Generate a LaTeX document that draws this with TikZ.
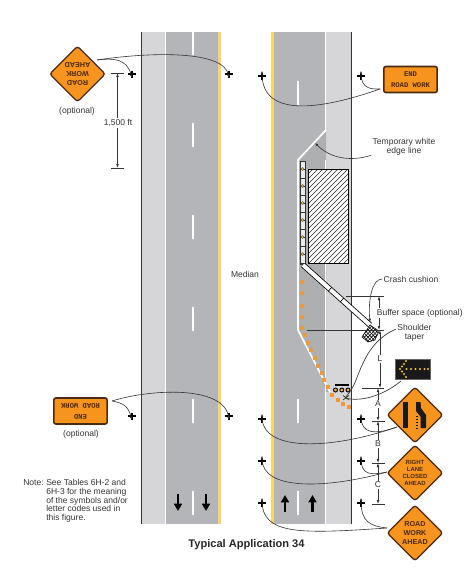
\documentclass[tikz,border=0pt]{standalone}
\usepackage{fontspec}
\setmainfont{Liberation Sans}
\newfontfamily\signfont{Liberation Mono}
\usetikzlibrary{arrows.meta,shapes.geometric}
\definecolor{lanegray}{HTML}{B4B5B8}
\definecolor{closedgray}{HTML}{AEAFB1}
\definecolor{shouldergray}{HTML}{D6D6D9}
\definecolor{edgeyellow}{HTML}{F9D56E}
\definecolor{signorange}{HTML}{F7941E}
\definecolor{signbrown}{HTML}{4A2A12}
\definecolor{inkgray}{HTML}{333333}
\definecolor{dotorange}{HTML}{EE9A3A}
\definecolor{boardyellow}{HTML}{F5C83C}

\begin{document}
\begin{tikzpicture}[
  x=0.75pt, y=-0.75pt,
  font=\fontsize{6.4pt}{6.6pt}\selectfont,
  lbl/.style={text=inkgray, align=center, inner sep=1pt},
  diamondsign/.style={diamond, aspect=1, draw=signbrown, line width=1pt, rounded corners=2pt, fill=signorange, minimum width=42pt, minimum height=42pt, inner sep=0pt, align=center, font=\fontsize{5.4pt}{7pt}\selectfont\bfseries, text=signbrown},
  rectsign/.style={draw=signbrown, line width=1.2pt, rounded corners=1.5pt, fill=signorange, minimum width=40pt, minimum height=19.5pt, inner sep=0pt, align=center, font=\signfont\fontsize{5.4pt}{8pt}\selectfont\bfseries, text=signbrown},
  leader/.style={draw=inkgray, line width=0.45pt, -{Latex[length=2.5pt,width=2pt]}},
  dimline/.style={draw=inkgray, line width=0.5pt},
  dimarrow/.style={draw=inkgray, line width=0.5pt, {Latex[length=3pt,width=2pt]}-{Latex[length=3pt,width=2pt]}},
  roadedge/.style={draw=black!80, line width=0.7pt},
  dashline/.style={draw=white, line width=1.8pt},
  lanearrow/.style={draw=black, line width=1.8pt, -{Triangle[length=5.5pt,width=6pt]}},
  orangedot/.style={fill=dotorange, minimum size=3.2pt, inner sep=0pt}
]
\useasboundingbox (0,0) rectangle (474,572);

% left roadway
\fill[shouldergray] (141,32) rectangle (166,524);
\fill[lanegray] (166,32) rectangle (218,524);
\fill[edgeyellow] (218,32) rectangle (221,524);
\draw[white, line width=0.9pt] (165.5,32) -- (165.5,524);
\draw[roadedge] (141,32) -- (141,524);
\foreach \ya/\yb in {32/55,123/147,215/239,307/331,399/423,491/515}
  \draw[dashline] (193,\ya) -- (193,\yb);
\draw[lanearrow] (178,494) -- (178,511);
\draw[lanearrow] (206,494) -- (206,511);

% right roadway
\fill[edgeyellow] (271,32) rectangle (274,524);
\fill[lanegray] (274,32) rectangle (326,524);
\fill[shouldergray] (326,32) rectangle (351,524);
\fill[closedgray] (326,130) -- (298,160) -- (298,330) -- (330,392) -- (326,392) -- cycle;
\draw[white, line width=0.9pt] (325.5,32) -- (325.5,130);
\draw[white, line width=0.9pt] (325.5,160) -- (325.5,524);
\draw[white, line width=1.3pt] (326,130) -- (298,160) -- (298,330) -- (330,392);
\draw[roadedge] (351,32) -- (351,524);
\foreach \ya/\yb in {81/105,399/423,491/515}
  \draw[dashline] (298,\ya) -- (298,\yb);
\draw[lanearrow] (285,512) -- (285,495);
\draw[lanearrow] (312.5,512) -- (312.5,495);

% work area
\fill[white] (308,169) rectangle (348,263);
\begin{scope}
  \clip (308,169) rectangle (348,263);
  \foreach \xh in {0,5,...,140}
    \draw[black!85, line width=0.5pt] (308+\xh-94,263) -- (308+\xh,169);
\end{scope}
\draw[black, line width=0.5pt] (308,169) rectangle (348,263);

% channelizing column
\draw[black!80, line width=0.4pt, fill=black!8] (300,161) rectangle (305.5,264);
\foreach \yb in {161,169.5,...,264}
  \draw[black!80, line width=0.3pt] (300,\yb) -- (305.5,\yb);
\foreach \yb in {169,186,203,220,237,254}
  \draw[black!70, line width=0.3pt, fill=boardyellow] (302.7,\yb) circle (1.5);

% barrier
\draw[black, line width=4.2pt] (303,265) -- (370,325);
\draw[white, line width=3pt] (303,265) -- (370,325);
\foreach \xb/\yb in {330/289.2,342/300}
  \draw[black, line width=0.5pt] (\xb-1.7,\yb+1.9) -- (\xb+1.7,\yb-1.9);

% crash cushion
\fill[white] (362,337) -- (370,325) -- (379,331) -- (375,340) -- (368,342) -- cycle;
\begin{scope}
  \clip (362,337) -- (370,325) -- (379,331) -- (375,340) -- (368,342) -- cycle;
  \foreach \xh in {0,3.5,...,35} {
    \draw[black, line width=0.45pt] (350+\xh,345) -- (350+\xh+22,322);
    \draw[black, line width=0.45pt] (350+\xh,322) -- (350+\xh+22,345);
  }
\end{scope}
\draw[black, line width=0.4pt] (362,337) -- (370,325) -- (379,331) -- (375,340) -- (368,342) -- cycle;

% orange taper dots
\foreach \xd/\yd in {301.7/281.7,301.7/293.3,301.7/305.7,301.7/317.3,301.7/328.3,
  305/335,308.3/343.3,311/350,315/357.7,317.7/365.7,321.7/372.7,324.3/380,328.3/387.3,
  331.7/395,338.3/400,343.3/404,349.3/407.3}
  \node[orangedot] at (\xd,\yd) {};

% shadow vehicle
\draw[black, line width=1.2pt] (335,385) -- (349,385);
\foreach \xc in {335.5,341.8,348}
  \draw[black, line width=0.7pt, fill=edgeyellow!50!orange] (\xc,390) circle (2);

% sign posts
\foreach \pname/\xp/\yp in {pa/132/74,pb/229/74,pc/262/76,pd/361/76,pe/132/416,pf/229/416,
  pg/262/419,ph/361/419,pi/262/461,pj/361/461,pk/262/503,pl/361/503}{
  \coordinate (\pname) at (\xp,\yp);
  \draw[black, line width=1.6pt] (\xp-4,\yp) -- (\xp+4,\yp);
  \draw[black, line width=1.6pt] (\xp,\yp-3.5) -- (\xp,\yp+3.5);
}

% signs
\node[diamondsign, rotate=180] (roadtop) at (77.5,74) {ROAD\\WORK\\AHEAD};
\node[rectsign] (endtop) at (410.5,79.5) {END\\ROAD WORK};
\node[rectsign, rotate=180] (endlow) at (80.5,411) {END\\ROAD WORK};
\node[diamondsign] (lanesign) at (415,415) {};
\node[diamondsign, font=\fontsize{4.5pt}{5.3pt}\selectfont\bfseries] (closedsign) at (415,473) {RIGHT\\LANE\\CLOSED\\AHEAD};
\node[diamondsign] (roadlow) at (415,533) {ROAD\\WORK\\AHEAD};

% lane reduction symbol
\fill[black!90] (402.5,402) rectangle (408,428);
\fill[black!90] (416,402) -- (420.5,402) -- (421,408) -- (426,415) -- (426,428) -- (420.5,428) -- (420.5,416.5) -- (416,411) -- cycle;
\foreach \yd in {415.5,418.5,...,428}
  \fill[black!90] (415.5,\yd) rectangle (417.5,\yd+1.7);

% arrow board
\node[draw=black!60, line width=0.3pt, fill=black!90, minimum width=26.3pt, minimum height=15pt, inner sep=0pt] (board) at (412.5,369) {};
\foreach \xd/\yd in {400/369,402/366.5,404/364,406/361,402/371.5,404/374,406/377,
  406.5/369,411/369,415.5/369,420/369,424.5/369,428/369}
  \fill[boardyellow] (\xd,\yd) circle (1.2);

% labels
\node[lbl] (optionala) at (77,111) {(optional)};
\node[lbl] (optionalb) at (81,434) {(optional)};
\node[lbl] (median) at (245,274) {Median};
\node[lbl] (edgeline) at (404,146.5) {Temporary white\\edge line};
\node[lbl] (cushion) at (411,279) {Crash cushion};
\node[lbl] (taper) at (414.5,332.5) {Shoulder\\taper};
\node[lbl, anchor=north west, inner sep=0pt] (notehead) at (23,479) {Note:};
\node[lbl, anchor=north west, align=left, inner sep=0pt] (notetext) at (46,479) {See Tables 6H-2 and\\6H-3 for the meaning\\of the symbols and/or\\letter codes used in\\this figure.};
\node[inner sep=0pt, font=\fontsize{8.3pt}{10pt}\selectfont\bfseries, text=black!85] (caption) at (246.5,545) {Typical Application 34};

% free leader ends
\coordinate (starttop) at (97,60);
\coordinate (startend) at (380,89);
\coordinate (startlow) at (112,401);
\coordinate (startlane) at (397,427);
\coordinate (startclosed) at (387,472);
\coordinate (startroad) at (387,528);
\coordinate (boardend) at (401,381);
\coordinate (vehicleend) at (345,398);
\coordinate (cushionend) at (370,322);
\coordinate (edgeend) at (315,143);

% leaders
\draw[leader] (starttop) .. controls (112,58) and (127,58) .. ([yshift=-3pt]pa);
\draw[leader] (starttop) .. controls (150,52) and (224,50) .. ([yshift=-3pt]pb);
\draw[leader] (startend) .. controls (373,89) and (361,90) .. ([yshift=4pt]pd);
\draw[leader] (startend) .. controls (320,110) and (262,118) .. ([yshift=4pt]pc);
\draw[leader] (startlow) .. controls (122,403) and (128,405) .. ([yshift=-3pt]pe);
\draw[leader] (startlow) .. controls (150,389) and (224,385) .. ([yshift=-3pt]pf);
\draw[leader] (startlane) .. controls (375,435) and (361,434) .. ([yshift=4pt]ph);
\draw[leader] (startlane) .. controls (330,450) and (262,452) .. ([yshift=4pt]pg);
\draw[leader] (startclosed) .. controls (372,475) and (361,476) .. ([yshift=4pt]pj);
\draw[leader] (startclosed) .. controls (330,488) and (262,492) .. ([yshift=4pt]pi);
\draw[leader] (startroad) .. controls (370,526) and (361,522) .. ([yshift=4pt]pl);
\draw[leader] (startroad) .. controls (300,534) and (262,535) .. ([yshift=4pt]pk);
\draw[leader] (edgeline.195) .. controls (350,162) and (330,158) .. (edgeend);
\draw[leader] (cushion.west) .. controls (372,279) and (368,300) .. (cushionend);
\draw[dimline] (taper.170) .. controls (370,340) and (362,365) .. (356,380) .. controls (352,390) and (349,393) .. (vehicleend);
\draw[dimline] (boardend) .. controls (388,392) and (365,403) .. (vehicleend);
\draw[dimline] (343,395.5) -- (349,400);
\draw[dimline] (343,400) -- (349,395.5);

% dimensions
\coordinate (dimtop) at (117.5,73);
\coordinate (dimbot) at (117.5,168);
\draw[dimline] (111,73) -- (124,73);
\draw[dimline] (111,168) -- (124,168);
\draw[dimarrow] (dimtop) -- (dimbot);
\node[lbl, fill=white] (feet) at (118,123) {1,500 ft};

\draw[dimline] (346,296) -- (384,296);
\draw[dimline] (307,330) -- (384,330);
\draw[dimline] (362,388) -- (384,388);
\draw[dimline] (372,421) -- (385,421);
\draw[dimline] (372,463) -- (385,463);
\draw[dimline] (372,504) -- (385,504);
\coordinate (buffertop) at (379,296);
\coordinate (bufferbot) at (379,330);
\coordinate (ltop) at (380,330);
\coordinate (lbot) at (380,388);
\coordinate (abot) at (378,421);
\coordinate (atop) at (378,388);
\coordinate (bbot) at (378,463);
\coordinate (cbot) at (378,504);
\draw[dimarrow] (buffertop) -- (bufferbot);
\draw[dimarrow] (ltop) -- (lbot);
\draw[dimarrow] (atop) -- (abot);
\draw[dimarrow] (abot) -- (bbot);
\draw[dimarrow] (bbot) -- (cbot);
\node[lbl, fill=white, inner sep=0.5pt, anchor=west] (buffer) at (376,313) {Buffer space (optional)};
\node[lbl, fill=white] (dimL) at (380,359) {L};
\node[lbl, fill=white] (dimA) at (378,404) {A};
\node[lbl, fill=white] (dimB) at (378,444) {B};
\node[lbl, fill=white] (dimC) at (378,485) {C};
\end{tikzpicture}
\end{document}
